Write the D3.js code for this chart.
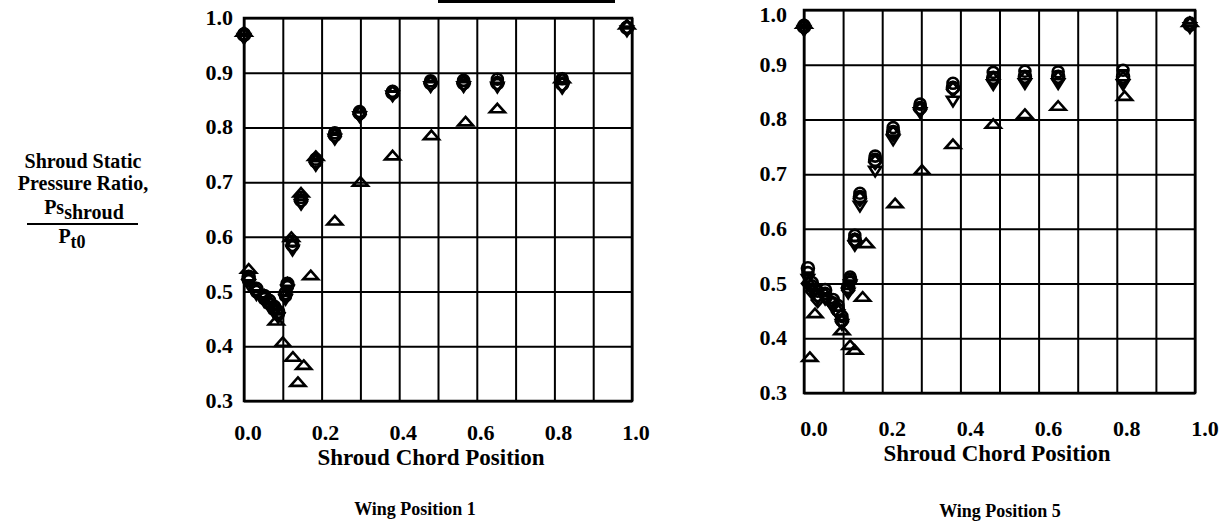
<!DOCTYPE html>
<html>
<head>
<meta charset="utf-8">
<script src="https://cdn.jsdelivr.net/npm/d3@7"></script>
<style>
  body { margin: 0; background: #fff; }
  text { font-family: "Liberation Serif", "Times New Roman", serif; font-weight: bold; fill: #000; }
</style>
</head>
<body>
<svg id="chart" width="1223" height="525"></svg>
<script>
// ---- data ----
const xTickLabels = [0.0, 0.2, 0.4, 0.6, 0.8, 1.0];
const xGridLines = [0.0, 0.1, 0.2, 0.3, 0.4, 0.5, 0.6, 0.7, 0.8, 0.9, 1.0];
const yTickLabels = [0.3, 0.4, 0.5, 0.6, 0.7, 0.8, 0.9, 1.0];

// Wing position 1
const w1Chord    = [0.0, 0.012, 0.032, 0.052, 0.065, 0.078, 0.088, 0.107, 0.112, 0.125, 0.147, 0.185, 0.234, 0.298, 0.383, 0.481, 0.566, 0.653, 0.820, 0.987];
const w1Circle   = [0.969, 0.527, 0.505, 0.492, 0.483, 0.472, 0.463, 0.497, 0.514, 0.585, 0.667, 0.738, 0.786, 0.826, 0.863, 0.881, 0.881, 0.881, 0.879, 0.982];
const w1Theta    = [0.971, 0.520, 0.500, 0.487, 0.478, 0.467, 0.458, 0.492, 0.509, 0.592, 0.672, 0.742, 0.790, 0.829, 0.866, 0.885, 0.886, 0.888, 0.889, 0.983];
const w1TriDown  = [0.965, 0.515, 0.497, 0.484, 0.474, 0.463, 0.455, 0.488, 0.505, 0.578, 0.662, 0.733, 0.781, 0.822, 0.860, 0.877, 0.877, 0.876, 0.874, 0.979];
const w1Diamond  = [0.968, 0.524, 0.502, 0.490, 0.480, 0.470, 0.460, 0.494, 0.512, 0.583, 0.665, 0.736, 0.784, 0.824, 0.862, 0.880, 0.880, 0.880, 0.878, 0.982];
const w1TriChord = [0.0, 0.012, 0.083, 0.100, 0.122, 0.126, 0.139, 0.147, 0.154, 0.172, 0.185, 0.234, 0.300, 0.383, 0.483, 0.571, 0.653, 0.820, 0.987];
const w1TriUp    = [0.975, 0.542, 0.447, 0.408, 0.600, 0.381, 0.335, 0.681, 0.366, 0.530, 0.748, 0.630, 0.701, 0.749, 0.786, 0.811, 0.835, 0.890, 0.988];

// Wing position 5
const w5Chord    = [0.0, 0.010, 0.020, 0.035, 0.054, 0.074, 0.087, 0.097, 0.113, 0.118, 0.130, 0.143, 0.182, 0.228, 0.297, 0.381, 0.484, 0.565, 0.650, 0.816, 0.987];
const w5Circle   = [0.969, 0.528, 0.501, 0.479, 0.488, 0.470, 0.452, 0.433, 0.494, 0.507, 0.580, 0.658, 0.726, 0.777, 0.821, 0.858, 0.876, 0.878, 0.878, 0.878, 0.973];
const w5Theta    = [0.972, 0.520, 0.496, 0.486, 0.482, 0.465, 0.460, 0.440, 0.490, 0.512, 0.588, 0.665, 0.733, 0.785, 0.828, 0.866, 0.886, 0.888, 0.887, 0.890, 0.976];
const w5TriDown  = [0.965, 0.510, 0.490, 0.475, 0.474, 0.458, 0.445, 0.428, 0.485, 0.500, 0.572, 0.644, 0.708, 0.765, 0.815, 0.836, 0.866, 0.868, 0.868, 0.866, 0.970];
const w5Diamond  = [0.968, 0.500, 0.486, 0.470, 0.478, 0.462, 0.448, 0.430, 0.488, 0.504, 0.578, 0.655, 0.722, 0.774, 0.818, 0.855, 0.873, 0.875, 0.875, 0.874, 0.973];
const w5TriChord = [0.0, 0.015, 0.028, 0.097, 0.118, 0.130, 0.150, 0.159, 0.233, 0.302, 0.381, 0.484, 0.565, 0.650, 0.820, 0.987];
const w5TriUp    = [0.975, 0.366, 0.446, 0.415, 0.388, 0.379, 0.476, 0.574, 0.647, 0.708, 0.755, 0.792, 0.810, 0.825, 0.843, 0.978];

// ---- marker shapes (d3.symbol custom types) ----
const SYM = {
  circle: { draw(ctx) { ctx.moveTo(6, 0); ctx.arc(0, 0, 6, 0, 2 * Math.PI); } },
  theta: { draw(ctx) { ctx.moveTo(5.5, 0); ctx.arc(0, 0, 5.5, 0, 2 * Math.PI); ctx.moveTo(-5.5, 0); ctx.lineTo(5.5, 0); } },
  triUp: { draw(ctx) { ctx.moveTo(0, -4.5); ctx.lineTo(7.5, 4); ctx.lineTo(-7.5, 4); ctx.closePath(); } },
  triDown: { draw(ctx) { ctx.moveTo(0, 6.5); ctx.lineTo(6, -3); ctx.lineTo(-6, -3); ctx.closePath(); } },
  diamond: { draw(ctx) { ctx.moveTo(0, -7); ctx.lineTo(6, 0); ctx.lineTo(0, 7); ctx.lineTo(-6, 0); ctx.closePath(); } },
};

const PANELS = [
  {
    box: { left: 244, right: 632, top: 18, bottom: 401 },
    tickDx: 4, xLabelY: 440, yLabelX: 233, titleX: 431, titleY: 465,
    caption: 'Wing Position 1', captionX: 415, captionY: 515,
    series: [
      { sym: 'diamond', x: w1Chord, y: w1Diamond },
      { sym: 'triDown', x: w1Chord, y: w1TriDown },
      { sym: 'circle', x: w1Chord, y: w1Circle },
      { sym: 'theta', x: w1Chord, y: w1Theta },
      { sym: 'triUp', x: w1TriChord, y: w1TriUp },
    ],
  },
  {
    box: { left: 804, right: 1195, top: 10, bottom: 393 },
    tickDx: 10, xLabelY: 436, yLabelX: 787, titleX: 997, titleY: 461,
    caption: 'Wing Position 5', captionX: 1000, captionY: 517,
    series: [
      { sym: 'diamond', x: w5Chord, y: w5Diamond },
      { sym: 'triDown', x: w5Chord, y: w5TriDown },
      { sym: 'circle', x: w5Chord, y: w5Circle },
      { sym: 'theta', x: w5Chord, y: w5Theta },
      { sym: 'triUp', x: w5TriChord, y: w5TriUp },
    ],
  },
];

const svg = d3.select('#chart');

PANELS.forEach(p => {
  const x = d3.scaleLinear().domain([0, 1]).range([p.box.left, p.box.right]);
  const y = d3.scaleLinear().domain([0.3, 1.0]).range([p.box.bottom, p.box.top]);
  const g = svg.append('g');

  // grid (vertical every 0.1, horizontal every 0.1)
  g.append('g')
    .attr('transform', `translate(0,${p.box.bottom})`)
    .call(d3.axisBottom(x).tickValues(xGridLines).tickSize(-(p.box.bottom - p.box.top)).tickFormat(''))
    .call(a => a.select('.domain').remove())
    .call(a => a.selectAll('line').attr('stroke', '#000').attr('stroke-width', 2));
  g.append('g')
    .attr('transform', `translate(${p.box.left},0)`)
    .call(d3.axisLeft(y).tickValues(yTickLabels).tickSize(-(p.box.right - p.box.left)).tickFormat(''))
    .call(a => a.select('.domain').remove())
    .call(a => a.selectAll('line').attr('stroke', '#000').attr('stroke-width', 2));

  g.append('rect')
    .attr('x', p.box.left).attr('y', p.box.top)
    .attr('width', p.box.right - p.box.left).attr('height', p.box.bottom - p.box.top)
    .attr('fill', 'none').attr('stroke', '#000').attr('stroke-width', 2.5);

  // tick labels
  g.selectAll('.xl').data(xTickLabels).enter().append('text')
    .attr('x', d => x(d) + p.tickDx).attr('y', p.xLabelY)
    .attr('text-anchor', 'middle').style('font-size', '22px')
    .text(d => d.toFixed(1));
  g.selectAll('.yl').data(yTickLabels).enter().append('text')
    .attr('x', p.yLabelX).attr('y', d => Math.max(y(d) + 7, 22))
    .attr('text-anchor', 'end').style('font-size', '22px')
    .text(d => d.toFixed(1));

  g.append('text').attr('x', p.titleX).attr('y', p.titleY)
    .attr('text-anchor', 'middle').style('font-size', '23px')
    .text('Shroud Chord Position');
  g.append('text').attr('x', p.captionX).attr('y', p.captionY)
    .attr('text-anchor', 'middle').style('font-size', '18px')
    .text(p.caption);

  // markers
  p.series.forEach(s => {
    const pts = s.x.map((c, i) => [c, s.y[i]]);
    g.append('g').selectAll('path').data(pts).enter().append('path')
      .attr('transform', d => `translate(${x(d[0])},${y(d[1])})`)
      .attr('d', d3.symbol().type(SYM[s.sym]))
      .attr('fill', 'none').attr('stroke', '#000').attr('stroke-width', 2.6);
  });
});

// shared y-axis title
const yt = svg.append('g');
yt.append('text').attr('x', 83).attr('y', 168).attr('text-anchor', 'middle').style('font-size', '20px').text('Shroud Static');
yt.append('text').attr('x', 83).attr('y', 190).attr('text-anchor', 'middle').style('font-size', '20px').text('Pressure Ratio,');
const num = yt.append('text').attr('x', 84).attr('y', 214).attr('text-anchor', 'middle').style('font-size', '20px');
num.append('tspan').text('Ps');
num.append('tspan').attr('dy', 5).text('shroud');
yt.append('line').attr('x1', 27).attr('x2', 138).attr('y1', 224).attr('y2', 224).attr('stroke', '#000').attr('stroke-width', 2);
const den = yt.append('text').attr('x', 72).attr('y', 243).attr('text-anchor', 'middle').style('font-size', '20px');
den.append('tspan').text('P');
den.append('tspan').attr('dy', 5).style('font-size', '18px').text('t0');

// bar fragment at the top edge of the scan
svg.append('line').attr('x1', 438).attr('x2', 615).attr('y1', 1.5).attr('y2', 1.5).attr('stroke', '#000').attr('stroke-width', 3);
</script>
</body>
</html>
